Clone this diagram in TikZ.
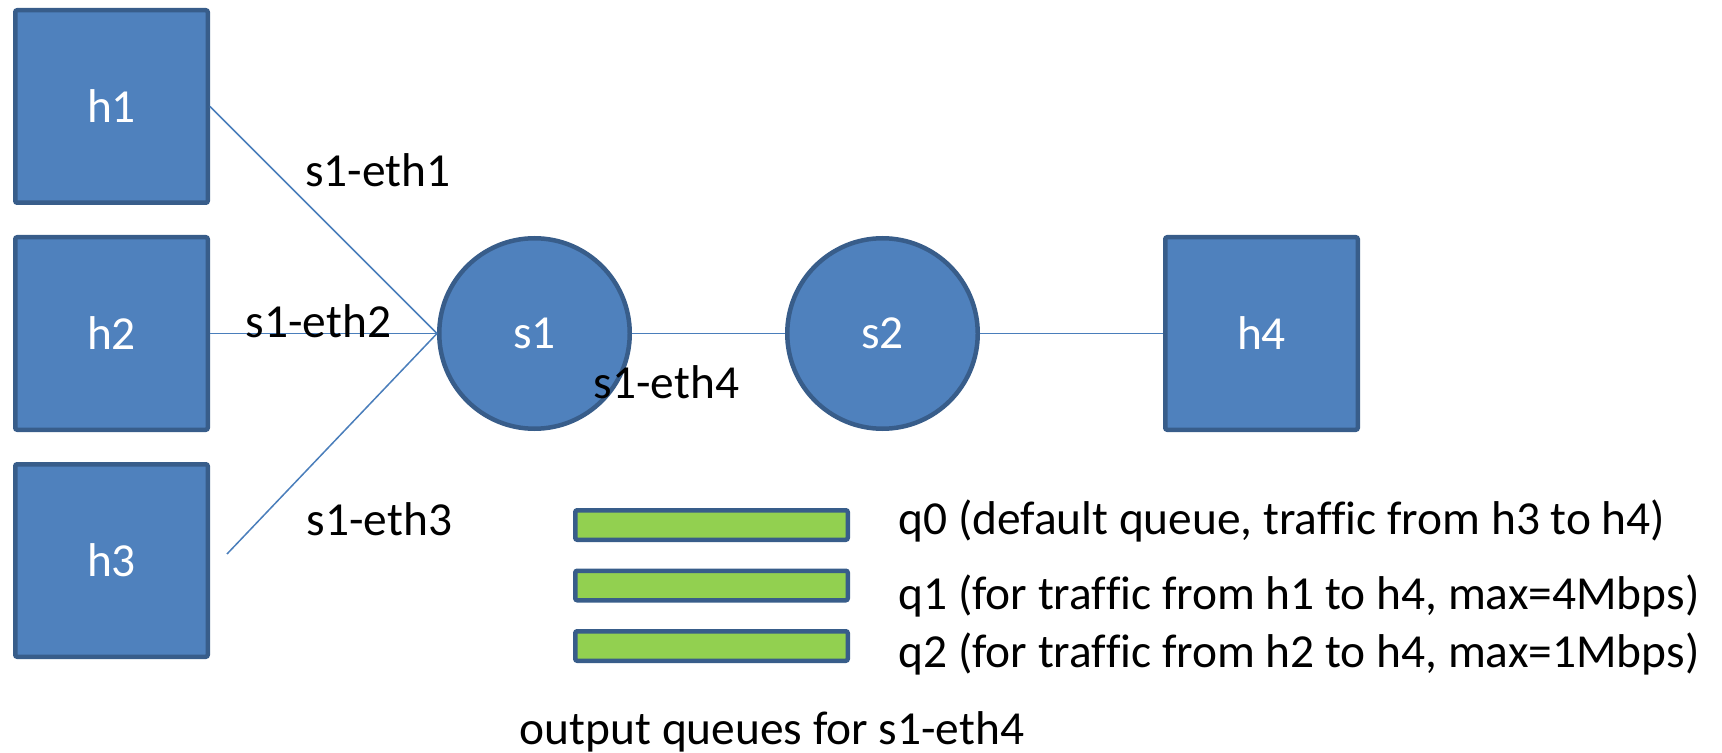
\documentclass[tikz,border=0pt]{standalone}
\usepackage{fontspec}
\setmainfont{Carlito}[Ligatures=NoCommon]
\definecolor{nodefill}{HTML}{4F81BD}
\definecolor{nodeedge}{HTML}{385D8A}
\definecolor{linkblue}{HTML}{4A7EBB}
\definecolor{queuegreen}{HTML}{92D050}
\tikzset{
  host/.style={rectangle, rounded corners=1pt, draw=nodeedge, line width=2.25pt,
    fill=nodefill, minimum size=96.25pt, inner sep=0pt, text=white,
    font=\fontsize{23.7pt}{28pt}\selectfont},
  switch/.style={circle, draw=nodeedge, line width=2.25pt, fill=nodefill,
    minimum size=95.25pt, inner sep=0pt, text=white,
    font=\fontsize{23.7pt}{28pt}\selectfont},
  link/.style={draw=linkblue, line width=0.75pt},
  portlabel/.style={anchor=base, inner sep=0pt, text=black,
    font=\fontsize{23.7pt}{28pt}\selectfont},
  queuebar/.style={rectangle, rounded corners=1pt, draw=nodeedge, line width=2.25pt,
    fill=queuegreen, minimum width=136.25pt, minimum height=14.75pt, inner sep=0pt},
  queuetext/.style={anchor=base west, inner sep=0pt, text=black,
    font=\fontsize{23.7pt}{28pt}\selectfont}
}
\begin{document}
\begin{tikzpicture}[x=0.5pt, y=-0.5pt]
  \useasboundingbox (0,0) rectangle (1722,753);

  % hosts and switches
  \node[host] (h1) at (111.5,106.5) {h1};
  \node[host] (h2) at (111.5,333.5) {h2};
  \node[host] (h3) at (111.5,560.5) {h3};
  \node[switch] (s1) at (534.5,333.5) {s1};
  \node[switch] (s2) at (882.5,333.5) {s2};
  \node[host] (h4) at (1261.5,333.5) {h4};

  % links
  \coordinate (h3end) at (227,554);
  \draw[link] (h1.east) -- (s1.west);
  \draw[link] (h2.east) -- (s1.west);
  \draw[link] (h3end) -- (s1.west);
  \draw[link] (s1.east) -- (s2.west);
  \draw[link] (s2.east) -- (h4.west);

  % port names
  \node[portlabel] (eth1) at (378,187) {s1-eth1};
  \node[portlabel] (eth2) at (318.5,337) {s1-eth2};
  \node[portlabel] (eth3) at (379.5,535) {s1-eth3};
  \node[portlabel] (eth4) at (666.5,398) {s1-eth4};

  % output queues
  \node[queuebar] (q0) at (711.5,525) {};
  \node[queuebar] (q1) at (711.5,585.5) {};
  \node[queuebar] (q2) at (711.5,646) {};
  \node[queuetext] (q0t) at (898,534) {q0 (default queue, traffic from h3 to h4)};
  \node[queuetext] (q1t) at (898,609) {q1 (for traffic from h1 to h4, max=4Mbps)};
  \node[queuetext] (q2t) at (898,667) {q2 (for traffic from h2 to h4, max=1Mbps)};
  \node[portlabel] (caption) at (772,744) {output queues for s1-eth4};
\end{tikzpicture}
\end{document}
